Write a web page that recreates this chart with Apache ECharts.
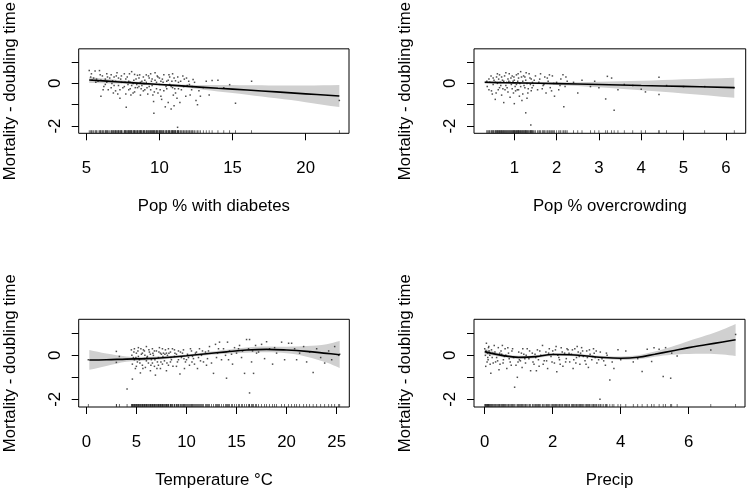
<!DOCTYPE html>
<html><head><meta charset="utf-8">
<script src="https://cdn.jsdelivr.net/npm/echarts@6/dist/echarts.min.js"></script>
<style>html,body{margin:0;padding:0;background:#fff}#c{width:748px;height:490px}</style>
</head><body><div id="c"></div>
<script>
// ---------- Panel 1: Pop % with diabetes ----------
const diabetesPts = [
[5.2,0.6],[5.6,0.58],[5.9,0.6],[5.3,0.3],[5.5,0.25],[5.8,0.1],[6.0,-0.6],[5.4,0.15],[6.1,0.35],[6.3,0.2],[6.4,0.05],[6.5,-0.3],[6.2,-0.15],[6.7,0.4],[6.8,0.12],[6.9,-0.1],[7.0,-0.35],[7.1,0.5],[7.2,0.25],[7.3,-0.7],[7.4,0.05],[7.5,-0.2],[7.6,0.45],[7.7,-0.5],[7.8,0.3],[7.9,0.1],[8.0,-0.25],[8.1,0.55],[8.2,0.0],[8.3,-0.4],[8.4,0.2],[8.5,0.38],[8.6,-0.15],[8.7,-0.55],[8.8,0.1],[8.9,0.3],[9.0,-0.3],[9.1,0.05],[9.2,-0.5],[9.3,0.25],[9.4,0.45],[9.5,-0.1],[9.6,-0.85],[9.7,0.15],[9.8,-0.25],[9.9,0.3],[10.0,-0.05],[10.1,-0.6],[10.2,0.2],[10.3,-0.35],[10.4,-1.1],[10.5,0.1],[10.6,-0.9],[10.7,0.3],[10.8,-1.2],[10.9,-0.2],[11.0,0.25],[11.1,-0.45],[11.2,-0.7],[11.3,0.05],[11.5,-0.3],[11.7,0.2],[11.9,-0.1],[12.1,-0.55],[12.3,0.18],[12.5,-0.8],[12.6,-1.0],[12.7,-0.35],[13.0,-0.2],[13.4,-0.55],[13.6,0.14],[14.0,0.15],[14.4,-0.2],[14.8,-0.06],[15.2,-0.93],[16.3,0.1],[22.3,-0.8],
[7.73,-1.12],[9.62,-1.4],[11.24,-2.06],
[5.7,0.2],[6.0,0.15],[6.3,-0.05],[6.6,0.25],[6.9,0.3],[7.2,-0.1],[7.4,0.35],[7.7,0.2],[7.9,-0.3],[8.1,-0.1],[8.3,0.42],[8.5,-0.2],[8.7,0.05],[8.9,-0.35],[9.1,0.4],[9.3,-0.15],[9.5,0.2],[9.7,0.5],[9.9,-0.45],[10.1,0.1],[10.3,0.4],[10.5,-0.25],[10.7,-0.05],[10.9,0.45],[11.1,0.12],[11.3,-0.25],[11.6,0.35],[11.8,-0.6],[12.0,0.1],[12.2,-0.3],[6.4,0.45],[7.0,0.1],[7.6,-0.15],[8.2,-0.45],[8.8,-0.1],[9.4,-0.3],[10.0,0.25],[10.6,0.15],[11.4,-0.9],[12.4,0.05],[8.0,0.05],[9.0,0.15],[7.3,-0.3],[6.7,-0.2],[8.6,0.25],[9.8,0.05],[10.8,-0.15],[12.8,-0.6],[13.2,0.1],[11.0,-1.05],
[5.35,0.45],[5.65,0.05],[5.95,0.4],[6.15,-0.3],[6.45,0.3],[6.75,0.0],[7.05,0.35],[7.35,0.2],[7.65,0.05],[7.95,0.45],[8.25,0.15],[8.45,-0.05],[8.65,0.4],[8.95,0.0],[9.15,-0.2],[9.45,0.1],[9.65,-0.4],[9.85,0.35],[10.05,-0.3],[10.25,0.05],[10.45,-0.15],[10.65,0.4],[10.85,0.1],[11.05,-0.25],[11.25,0.3],[11.45,0.1],[11.65,-0.15],[11.85,0.25],[12.05,-0.05],[12.25,-0.15],[7.15,-0.5],[8.05,-0.55],[8.75,-0.25],[9.25,0.35],[9.55,-0.55],[10.15,-0.75],[10.95,-0.55],[6.85,-0.45],[7.85,-0.05],[8.35,-0.2]
];
const diabetesBandX = [5.2,7,9,10,12,14,16,18,20,22.3];
const diabetesFit   = [0.16,0.08,-0.01,-0.05,-0.14,-0.23,-0.31,-0.40,-0.49,-0.59];
const diabetesLo    = [0.02,-0.01,-0.07,-0.10,-0.22,-0.38,-0.53,-0.70,-0.88,-1.11];
const diabetesHi    = [0.30,0.17,0.05,0.00,-0.06,-0.08,-0.09,-0.10,-0.10,-0.07];
const diabetesTicks = [5,10,15,20];

// ---------- Panel 2: Pop % overcrowding ----------
const crowdPts = [
[0.35,0.1],[0.4,-0.3],[0.45,0.35],[0.5,-0.05],[0.5,0.25],[0.55,-0.75],[0.6,0.45],[0.6,0.0],[0.65,-0.2],[0.7,0.3],[0.7,-0.55],[0.75,0.1],[0.75,-0.9],[0.8,0.5],[0.8,-0.1],[0.85,0.2],[0.85,-0.4],[0.9,0.05],[0.9,-0.65],[0.95,0.35],[0.95,-0.25],[1.0,0.15],[1.0,-0.95],[1.05,-0.05],[1.05,0.4],[1.1,-0.3],[1.1,0.25],[1.15,0.55],[1.15,-0.15],[1.2,0.1],[1.2,-0.5],[1.25,0.3],[1.25,-0.2],[1.3,0.0],[1.3,-0.7],[1.35,0.45],[1.4,-0.35],[1.4,0.2],[1.45,-0.1],[1.5,0.35],[0.4,0.2],[0.55,0.05],[0.65,0.4],[0.78,-0.3],[0.88,0.45],[0.98,-0.45],[1.08,0.1],[1.18,-0.8],[1.28,0.5],[1.38,-0.05],[0.48,-0.5],[0.62,-0.3],[0.72,0.15],[0.92,0.25],[1.02,-0.15],[1.12,-0.6],[1.22,0.35],[1.33,-0.25],[1.43,0.05],[0.58,0.3],[0.68,-0.1],[0.82,0.05],[0.97,0.1],[1.07,-0.3],
[1.55,-0.3],[1.6,0.2],[1.62,0.45],[1.68,-0.1],[1.72,0.3],[1.75,-0.45],[1.8,0.1],[1.85,-0.2],[1.9,0.35],[1.95,-0.6],[2.0,0.05],[2.05,-0.3],[2.1,0.2],[2.15,0.4],[2.2,-0.15],[2.25,0.1],[2.17,-1.1],[1.7,-0.05],[1.88,-0.35],
[2.4,0.05],[2.5,-0.45],[2.6,0.15],[2.8,-0.15],[2.9,0.1],[3.0,-0.2],[3.16,-0.73],[3.2,0.33],[3.3,0.25],[3.36,-1.26],[3.45,-0.3],[3.6,-0.05],[3.8,-0.1],[4.0,-0.28],[4.1,-0.4],[4.42,0.29],[4.42,-0.52],[4.6,-0.1],[5.0,-0.15],[5.5,-0.15],[6.2,-0.2],
[1.27,-1.38],[1.39,-1.95],
[0.36,-0.15],[0.42,0.05],[0.46,-0.35],[0.52,0.15],[0.57,-0.45],[0.63,0.2],[0.67,0.05],[0.73,-0.25],[0.77,0.35],[0.83,-0.2],[0.87,0.1],[0.93,-0.05],[0.99,0.3],[1.03,-0.35],[1.09,0.45],[1.13,0.0],[1.17,0.3],[1.23,-0.1],[1.27,0.15],[1.32,-0.45],[1.37,0.25],[1.42,-0.2],[1.47,0.15],[1.58,0.05],[1.66,-0.25],[1.78,0.25],[1.93,0.0],[2.08,-0.1],[2.22,0.3],[1.83,0.4]
];
const crowdBandX = [0.3,0.8,1.2,2,3,4,5,6.2];
const crowdFit   = [0.05,0.03,0.02,-0.01,-0.05,-0.10,-0.14,-0.20];
const crowdLo    = [0.00,-0.01,-0.02,-0.07,-0.18,-0.32,-0.47,-0.67];
const crowdHi    = [0.10,0.07,0.06,0.05,0.08,0.12,0.19,0.27];
const crowdTicks = [1,2,3,4,5,6];

// ---------- Panel 3: Temperature °C ----------
const tempPts = [
[0.2,-0.2],[3.0,0.18],[3.0,-0.32],[3.3,-0.05],[4.07,-1.53],[4.6,-1.08],[4.5,0.25],[4.6,-0.4],[4.7,-0.1],[4.8,0.3],[4.9,-0.6],[5.0,0.1],[5.1,-0.3],[5.2,0.35],[5.3,-0.2],[5.4,-0.8],[5.5,0.05],[5.6,-0.45],[5.7,0.25],[5.8,-0.15],[5.9,-0.55],[6.0,0.4],[6.1,-0.05],[6.2,-0.35],[6.3,0.15],[6.4,-0.7],[6.5,-0.2],[6.6,0.3],[6.7,0.0],[6.8,-0.5],[6.9,-0.9],[7.0,0.2],[7.1,-0.3],[7.2,-0.1],[7.3,0.35],[7.4,-0.6],[7.5,0.05],[7.6,-0.4],[7.7,0.1],[7.8,-0.25],[7.9,0.25],[8.0,-0.7],[8.1,0.0],[8.2,-0.45],[8.4,0.15],[8.5,-0.2],[8.6,0.3],[8.8,-0.05],[9.0,-0.5],[9.2,0.2],[9.35,-0.85],[9.5,-0.1],[9.7,0.25],[9.9,-0.3],[10.1,0.05],[10.3,-0.45],[10.5,0.2],[10.7,-0.15],[10.9,0.1],[11.1,-0.6],[11.3,0.3],[11.5,0.0],[11.7,-0.3],[11.9,0.15],[12.1,-0.15],[12.3,0.4],[12.5,-0.35],[12.7,-0.82],[12.9,0.5],[13.1,0.1],[13.3,0.6],[13.5,-0.2],[13.7,0.3],[13.9,0.0],[14.0,-1.04],[14.1,0.6],[14.3,0.2],[14.6,-0.4],[14.8,0.35],[15.0,0.1],[15.3,0.45],[15.5,-0.1],[15.8,-0.82],[16.0,0.72],[16.2,0.3],[16.3,-1.71],[16.3,0.72],[16.5,-0.3],[16.7,-0.82],[16.9,0.45],[17.2,0.15],[17.5,0.5],[17.8,-0.15],[18.0,0.62],[18.3,0.3],[18.6,-0.4],[19.0,0.1],[19.5,0.6],[19.8,-0.2],[20.2,0.55],[20.5,0.55],[20.8,0.3],[21.0,-0.2],[21.3,0.1],[21.7,0.4],[22.0,-0.3],[22.3,0.15],[22.65,-0.78],[23.0,0.3],[23.4,-0.1],[23.8,-0.35],[24.2,0.2],[24.5,-0.2],[24.8,0.4],[25.2,0.0],[25.3,0.05],
[4.8,-0.2],[5.2,-0.05],[5.6,0.1],[6.0,-0.25],[6.4,0.05],[6.8,0.2],[7.2,-0.45],[7.6,0.3],[8.0,0.1],[8.4,-0.3],[8.8,0.25],[9.2,-0.2],[9.6,0.1],[10.0,-0.2],[10.4,0.3],[10.8,-0.4],[11.2,-0.1],[5.0,-0.5],[5.8,0.2],[6.6,-0.35],[7.4,0.1],[8.2,0.3],[9.0,0.05],[9.8,-0.6],[10.6,-0.05],[11.6,0.2],[12.0,-0.45],[13.0,-0.1],[14.5,0.05],[15.6,0.2],[17.0,0.1],
[4.55,0.0],[4.75,0.15],[4.95,-0.1],[5.15,0.2],[5.35,-0.35],[5.45,0.3],[5.65,-0.6],[5.85,0.0],[6.05,-0.1],[6.25,0.25],[6.45,-0.45],[6.65,0.1],[6.85,-0.2],[7.05,-0.6],[7.25,0.15],[7.45,-0.3],[7.65,-0.05],[7.85,0.05],[8.05,-0.35],[8.25,0.1],[8.45,-0.1],[8.65,-0.5],[8.85,0.1],[9.1,-0.3],[9.4,0.15],[9.75,-0.15],[10.2,-0.1],[10.55,-0.3],[11.0,0.15],[11.4,-0.25],[12.2,0.2],[13.2,0.3],[14.2,-0.2],[15.2,0.3],[16.6,0.2],[18.8,0.35]
];
const tempBandX = [0.3,2,4,6,8,10,12,14,16,18,20,22,24,25.3];
const tempFit   = [-0.21,-0.20,-0.17,-0.15,-0.10,-0.02,0.07,0.16,0.24,0.27,0.24,0.18,0.09,0.03];
const tempLo    = [-0.66,-0.48,-0.29,-0.23,-0.17,-0.08,0.00,0.07,0.12,0.14,0.09,-0.06,-0.33,-0.58];
const tempHi    = [0.24,0.08,-0.05,-0.07,-0.03,0.04,0.14,0.25,0.36,0.40,0.39,0.42,0.51,0.65];
const tempTicks = [0,5,10,15,20,25];

// ---------- Panel 4: Precip ----------
const precipPts = [
[0.0,0.3],[0.03,-0.5],[0.05,0.55],[0.08,0.1],[0.1,-0.2],[0.12,0.4],[0.15,0.0],[0.18,-0.82],[0.2,0.25],[0.25,-0.35],[0.3,0.15],[0.35,-0.1],[0.4,0.35],[0.45,-0.4],[0.5,0.05],[0.55,-0.2],[0.6,0.3],[0.65,-0.6],[0.7,0.1],[0.75,-0.3],[0.8,0.2],[0.85,-0.1],[0.88,-1.45],[0.92,-0.45],[0.96,-1.0],[1.0,0.15],[1.05,-0.25],[1.1,-0.55],[1.15,0.05],[1.2,-0.35],[1.25,0.3],[1.3,-0.15],[1.35,-0.7],[1.4,0.1],[1.45,-0.4],[1.5,-0.1],[1.55,0.25],[1.6,-0.5],[1.65,0.0],[1.7,0.45],[1.75,-0.25],[1.8,0.15],[1.85,-0.6],[1.9,0.3],[1.95,-0.05],[2.0,0.2],[2.05,-0.35],[2.1,0.4],[2.15,0.0],[2.2,-0.2],[2.25,0.35],[2.3,-0.5],[2.35,0.1],[2.4,-0.15],[2.45,0.25],[2.5,-0.3],[2.55,0.05],[2.6,-0.6],[2.65,0.3],[2.7,-0.1],[2.75,0.15],[2.8,-0.4],[2.85,0.35],[2.9,-0.05],[2.95,-0.25],[3.0,0.2],[3.05,-0.55],[3.1,0.05],[3.15,-0.2],[3.2,0.3],[3.25,-0.1],[3.3,-0.35],[3.39,-2.0],[3.4,0.15],[3.5,-0.25],[3.55,-0.45],[3.6,0.0],[3.68,-1.12],[3.75,-0.3],[3.8,-0.6],[3.92,0.25],[4.0,-0.2],[4.15,0.2],[4.37,-0.3],[4.5,-0.15],[4.63,-0.73],[4.78,0.28],[4.91,-0.28],[4.98,0.35],[5.13,0.28],[5.25,-0.96],[5.32,0.35],[5.47,-1.04],[5.5,0.1],[5.66,-0.03],[6.65,0.24],[7.38,0.95],
[0.02,0.0],[0.07,-0.3],[0.13,0.2],[0.22,-0.1],[0.28,0.45],[0.38,-0.25],[0.48,0.2],[0.58,-0.05],[0.68,0.35],[0.78,-0.45],[1.02,-0.2],[1.22,0.0],[1.42,-0.3],[1.62,0.2],[1.82,-0.25],[2.02,0.05],[2.22,-0.4],[2.42,0.3],[2.62,-0.2],[2.82,0.1],[3.02,-0.1],[3.22,0.1],[3.45,-0.15],[1.12,0.3],[1.52,-0.7],[2.12,-0.75],[2.72,0.4],[0.42,-0.65],[0.52,0.45],
[0.04,0.2],[0.09,-0.1],[0.11,0.35],[0.16,-0.4],[0.24,0.1],[0.32,-0.3],[0.44,0.1],[0.54,-0.35],[0.62,0.0],[0.72,-0.15],[0.82,0.3],[0.98,-0.3],[1.08,0.1],[1.18,-0.15],[1.32,0.2],[1.48,0.05],[1.58,-0.2],[1.72,-0.4],[1.88,0.1],[1.98,-0.3],[2.08,0.25],[2.18,-0.1],[2.28,0.15],[2.38,-0.3],[2.48,0.1],[2.58,0.25],[2.68,-0.35],[2.78,-0.05],[2.88,0.2],[2.98,-0.4],[3.08,0.25],[3.18,-0.05],[3.28,0.2],[3.35,-0.2],[3.58,0.1]
];
const precipBandX = [0,0.5,1,1.5,2,2.5,3,3.5,4,4.5,5,5.5,6,6.5,7,7.38];
const precipFit   = [0.17,0.00,-0.09,-0.06,0.04,0.03,-0.03,-0.10,-0.13,-0.09,0.05,0.20,0.35,0.48,0.61,0.71];
const precipLo    = [0.05,-0.07,-0.16,-0.13,-0.02,-0.03,-0.09,-0.17,-0.21,-0.18,-0.06,0.03,0.06,0.07,0.04,-0.03];
const precipHi    = [0.30,0.07,-0.02,0.01,0.10,0.09,0.03,-0.03,-0.05,0.00,0.17,0.39,0.65,0.90,1.18,1.43];
const precipTicks = [0,2,4,6];

const yTicks = [-2,-1,0,1];
const yLabels = [-2,0];
const yTitle = 'Mortality - doubling time';

const panels = [
  {grid:{left:78.7,top:45.3,width:270.3,height:88}, xr:[4.48,22.96], yr:[-2.34,1.62], xt:diabetesTicks, title:'Pop % with diabetes', pts:diabetesPts, bx:diabetesBandX, fit:diabetesFit, lo:diabetesLo, hi:diabetesHi},
  {grid:{left:474,top:45.3,width:271.7,height:88}, xr:[0.047,6.47], yr:[-2.34,1.62], xt:crowdTicks, title:'Pop % overcrowding', pts:crowdPts, bx:crowdBandX, fit:crowdFit, lo:crowdLo, hi:crowdHi},
  {grid:{left:78.7,top:319.3,width:270.6,height:88.4}, xr:[-0.76,26.26], yr:[-2.35,1.64], xt:tempTicks, title:'Temperature °C', pts:tempPts, bx:tempBandX, fit:tempFit, lo:tempLo, hi:tempHi},
  {grid:{left:474,top:319.3,width:271,height:88.4}, xr:[-0.315,7.656], yr:[-2.35,1.64], xt:precipTicks, title:'Precip', pts:precipPts, bx:precipBandX, fit:precipFit, lo:precipLo, hi:precipHi}
];

const FONT = 'Liberation Sans, Arial, Helvetica, sans-serif';
const FS = 16.8;
const grids = [], xAxes = [], yAxes = [], series = [];
panels.forEach((p, i) => {
  grids.push(Object.assign({show:true, borderColor:'#000', borderWidth:1, backgroundColor:'transparent', containLabel:false}, p.grid));
  xAxes.push({
    type:'value', gridIndex:i, min:p.xr[0], max:p.xr[1], position:'bottom',
    name:p.title, nameLocation:'middle', nameGap:65,
    nameTextStyle:{fontFamily:FONT, fontSize:FS, color:'#000'},
    axisLine:{show:false, onZero:false}, splitLine:{show:false},
    axisTick:{show:true, length:7, customValues:p.xt, lineStyle:{color:'#000', width:1}},
    axisLabel:{show:true, margin:27, customValues:p.xt, fontFamily:FONT, fontSize:FS, color:'#000'}
  });
  yAxes.push({
    type:'value', gridIndex:i, min:p.yr[0], max:p.yr[1], position:'left',
    name:yTitle, nameLocation:'middle', nameGap:60, nameRotate:90,
    nameTextStyle:{fontFamily:FONT, fontSize:FS, color:'#000'},
    axisLine:{show:false, onZero:false}, splitLine:{show:false},
    axisTick:{show:true, length:7, customValues:yTicks, lineStyle:{color:'#000', width:1}},
    axisLabel:{show:true, margin:15, rotate:90, customValues:yLabels, fontFamily:FONT, fontSize:FS, color:'#000'}
  });
  // confidence band (polygon through upper then lower bound; end points doubled to keep square ends)
  series.push({
    type:'custom', xAxisIndex:i, yAxisIndex:i, silent:true, z:1,
    data:[[p.bx[0], p.fit[0]]],
    renderItem:(params, api) => {
      const n = p.bx.length, pts = [];
      pts.push(api.coord([p.bx[0], p.hi[0]]));
      for (let k = 0; k < n; k++) pts.push(api.coord([p.bx[k], p.hi[k]]));
      pts.push(api.coord([p.bx[n-1], p.hi[n-1]]));
      pts.push(api.coord([p.bx[n-1], p.lo[n-1]]));
      for (let k = n - 1; k >= 0; k--) pts.push(api.coord([p.bx[k], p.lo[k]]));
      pts.push(api.coord([p.bx[0], p.lo[0]]));
      return {type:'polygon', shape:{points:pts, smooth:0.35}, style:{fill:'#d0d0d0', stroke:null}};
    }
  });
  // residual points
  series.push({
    type:'scatter', xAxisIndex:i, yAxisIndex:i, z:2, silent:true,
    symbol:'rect', symbolSize:1.5, itemStyle:{color:'#222'},
    data:p.pts
  });
  // fitted smooth
  series.push({
    type:'line', xAxisIndex:i, yAxisIndex:i, z:3, silent:true, showSymbol:false, symbol:'none',
    smooth:0.4, lineStyle:{color:'#000', width:1.6},
    data:p.bx.map((x, k) => [x, p.fit[k]])
  });
  // rug
  series.push({
    type:'scatter', xAxisIndex:i, yAxisIndex:i, z:4, silent:true, clip:false,
    symbol:'rect', symbolSize:[0.8, 3], symbolOffset:[0, -1.5], itemStyle:{color:'#222'},
    data:p.pts.map(q => [q[0], p.yr[0]])
  });
});

const chart = echarts.init(document.getElementById('c'), null, {renderer:'canvas'});
chart.setOption({animation:false, backgroundColor:'#fff', grid:grids, xAxis:xAxes, yAxis:yAxes, series:series});
</script>
</body></html>
